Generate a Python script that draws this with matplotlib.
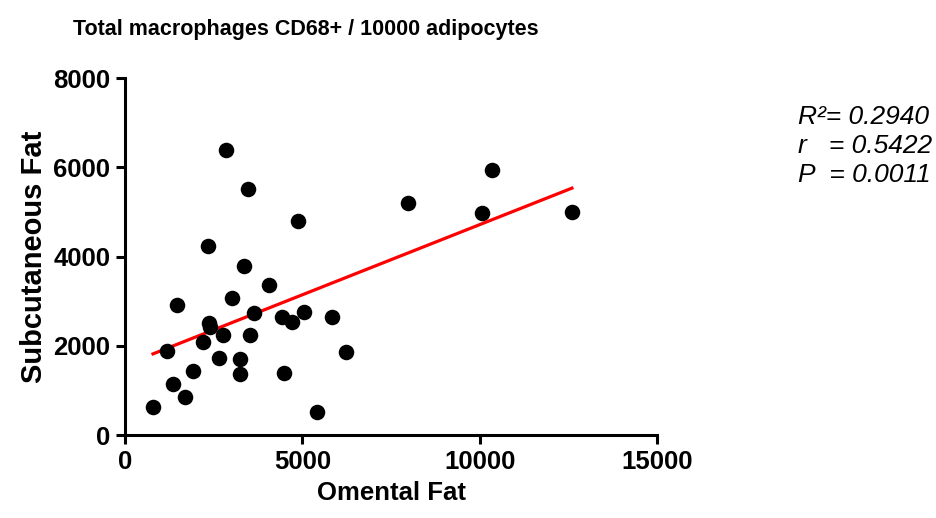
import numpy as np
import matplotlib
matplotlib.use('Agg')
import matplotlib.pyplot as plt

plt.rcParams['font.family'] = ['Liberation Sans', 'DejaVu Sans']

# omental vs subcutaneous CD68+ macrophages per 10000 adipocytes
omental = [790, 1180, 1350, 1470, 1690, 1920, 2200, 2340, 2370, 2400,
           2650, 2760, 2850, 3020, 3240, 3240, 3350, 3470, 3520, 3640,
           4060, 4430, 4480, 4710, 4880, 5050, 5410, 5840, 6230, 7980,
           10060, 10350, 12600]
subcut = [630, 1880, 1140, 2910, 850, 1430, 2090, 4240, 2510, 2420,
          1730, 2240, 6390, 3070, 1700, 1370, 3790, 5520, 2240, 2740,
          3360, 2650, 1390, 2530, 4800, 2760, 520, 2650, 1860, 5200,
          4980, 5940, 5000]

xticks = [0, 5000, 10000, 15000]
yticks = [0, 2000, 4000, 6000, 8000]
stats = ['R\u00b2= 0.2940', 'r   = 0.5422', 'P  = 0.0011']

x = np.array(omental)
y = np.array(subcut)
slope, icpt = np.polyfit(x, y, 1)
xl = np.array([x.min(), x.max()])

fig = plt.figure(figsize=(9.36, 5.18), dpi=100)
ax = fig.add_axes([0.1335, 0.160, 0.5685, 0.689])

ax.scatter(x, y, s=125, color='black', zorder=3, linewidths=0)
ax.plot(xl, slope * xl + icpt, color='red', lw=2.3, zorder=2)

ax.set_xlim(0, 15000)
ax.set_ylim(0, 8000)
ax.set_xticks(xticks)
ax.set_yticks(yticks)
ax.spines['top'].set_visible(False)
ax.spines['right'].set_visible(False)
for s in ['left', 'bottom']:
    ax.spines[s].set_linewidth(2.2)
ax.tick_params(width=2.2, length=6.5, labelsize=18.5, direction='out', pad=4)
for lab in ax.get_xticklabels() + ax.get_yticklabels():
    lab.set_fontweight('bold')

ax.set_xlabel('Omental Fat', fontsize=18.5, fontweight='bold', labelpad=5)
ax.set_ylabel('Subcutaneous Fat', fontsize=21, fontweight='bold', labelpad=4)

fig.text(73 / 936, 1 - 30 / 518, 'Total macrophages CD68+ / 10000 adipocytes',
         fontsize=15.5, fontweight='bold', va='center', ha='left')

for i, t in enumerate(stats):
    fig.text(798 / 936, 1 - (117 + 29 * i) / 518, t, fontsize=19,
             style='italic', va='center', ha='left')

fig.savefig('out.png', dpi=100)
